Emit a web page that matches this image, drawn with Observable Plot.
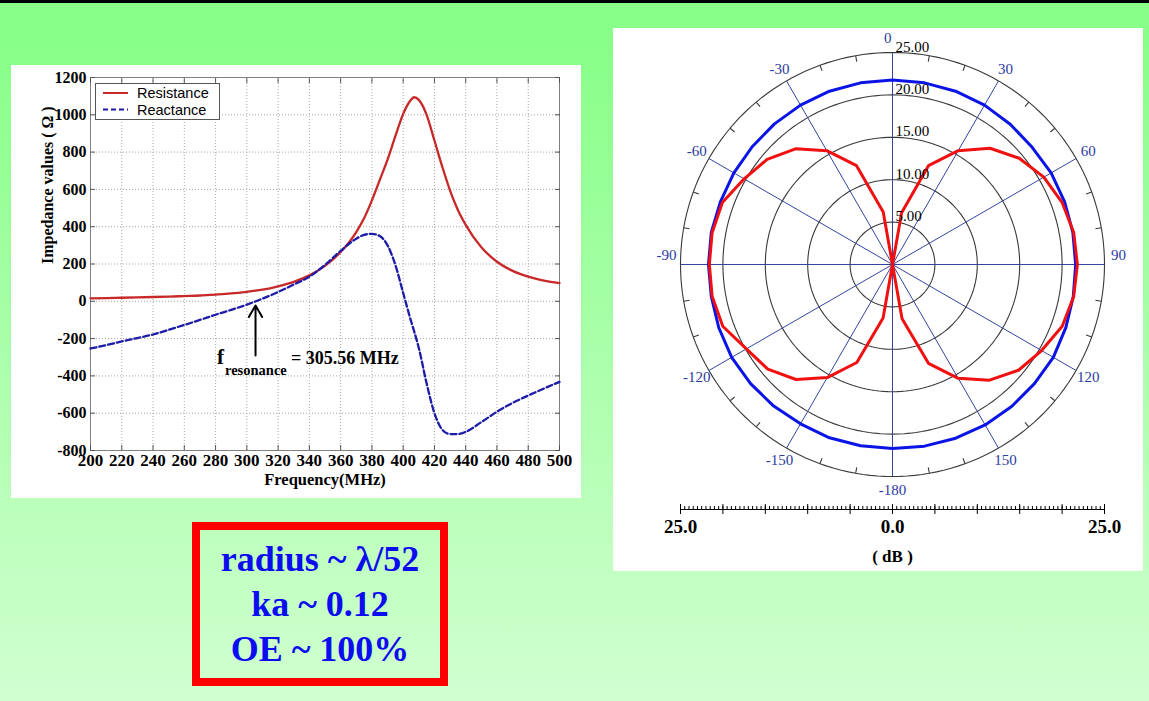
<!DOCTYPE html>
<html>
<head>
<meta charset="utf-8">
<script src="https://cdn.jsdelivr.net/npm/d3@7"></script>
<script src="https://cdn.jsdelivr.net/npm/@observablehq/plot@0.6"></script>
<style>
  html, body { margin: 0; padding: 0; }
  body {
    width: 1149px; height: 701px; position: relative; overflow: hidden;
    background: linear-gradient(to bottom, #88ff88 0%, #88ff88 6%, #d0ffd0 100%);
    font-family: 'Liberation Serif', 'Times New Roman', serif;
  }
  #topline { position: absolute; left: 0; top: 0; width: 1149px; height: 3px; background: #000; }
  #left { position: absolute; left: 11px; top: 65px; width: 570px; height: 433px; }
  #right { position: absolute; left: 613px; top: 28px; width: 530px; height: 543px; }
  #overlay { position: absolute; left: 0; top: 0; pointer-events: none; }
  #note {
    position: absolute; left: 192px; top: 522px; width: 240px; height: 148px;
    border: 8px solid #ff0000; padding: 0; text-align: center;
  }
  #note div {
    font-family: 'Liberation Serif', 'Times New Roman', serif; font-weight: bold;
    font-size: 36px; line-height: 45px; color: #0c0cf0; white-space: nowrap;
  }
  #note .first { margin-top: 7px; }
</style>
</head>
<body>
<div id="topline"></div>
<div id="left"></div>
<div id="right"></div>
<svg id="overlay" width="1149" height="701"></svg>
<div id="note">
  <div class="first">radius ~ λ/52</div>
  <div>ka ~ 0.12</div>
  <div>OE ~ 100%</div>
</div>
<script>
// ---------------- Impedance chart data ----------------
const freqMHz = [200,210,220,230,240,250,260,270,280,290,300,310,320,330,340,350,360,370,375,380,385,390,395,400,405,407,410,415,420,425,430,435,440,450,460,470,480,490,500];
const resistance = [16,17,19,21,23,25,28,31,36,42,51,62,80,104,139,190,264,371,445,541,650,760,885,1005,1080,1094,1080,1000,862,722,594,490,410,290,212,163,132,111,98];
const reactance = [-253,-235,-215,-197,-178,-153,-127,-100,-72,-46,-18,14,50,90,132,195,270,336,356,362,350,300,195,45,-105,-160,-250,-440,-600,-688,-712,-712,-700,-648,-592,-545,-505,-468,-432];
const freqTicks = [200,220,240,260,280,300,320,340,360,380,400,420,440,460,480,500];
const impedanceTicks = [-800,-600,-400,-200,0,200,400,600,800,1000,1200];
const seriesNames = ["Resistance", "Reactance"];
const resonance = { freq: 305.56, tail: -290, head: -22, label: "= 305.56 MHz" };

// ---------------- Radiation pattern data (dB) ----------------
const patternAngles = [-180,-170,-160,-150,-140,-130,-120,-110,-100,-90,-80,-70,-60,-50,-40,-30,-20,-10,0,10,20,30,40,50,60,70,80,90,100,110,120,130,140,150,160,170,180];
const redPattern = [0,6.4,12.3,15.4,17.7,19.2,19.9,21.3,21.6,21.6,21.6,21.35,20.2,19.3,17.8,15.5,12.4,6.3,0,6.2,12.4,15.5,17.9,19.5,20.6,21.3,21.7,21.8,21.7,21.3,20.3,19.4,17.8,15.5,12.4,6.5,0];
const bluePattern = [21.7,21.7,21.75,21.7,21.8,21.85,21.9,21.8,21.7,21.7,21.7,21.6,21.6,21.6,21.65,21.7,21.75,21.75,21.75,21.75,21.75,21.7,21.6,21.5,21.6,21.6,21.6,21.6,21.65,21.75,21.9,21.85,21.85,21.85,21.8,21.75,21.7];
const ringValues = [5, 10, 15, 20, 25];
const spokeAngles = [0,30,60,90,120,150,180,210,240,270,300,330];
const angleLabels = [0,30,60,90,120,150,-180,-150,-120,-90,-60,-30];
const outerTickAngles = [10,20,40,50,70,80,100,110,130,140,160,170,190,200,220,230,250,260,280,290,310,320,340,350];
const barMajorTicks = [-25,-20,-15,-10,-5,0,5,10,15,20,25];
const barLabelTicks = [-25, 0, 25];
const barUnit = "( dB )";

// ---------------- Impedance chart ----------------
const rows = freqMHz.map((f, i) => ({ f, R: resistance[i], X: reactance[i] }));
const tickStroke = "#555";
const leftChart = Plot.plot({
  width: 570, height: 433,
  marginLeft: 79, marginRight: 22, marginTop: 12, marginBottom: 48,
  style: { background: "#fff", fontFamily: "'Liberation Serif','Times New Roman',serif", fontWeight: "bold", color: "#000", overflow: "visible" },
  x: { domain: [200, 500] },
  y: { domain: [-800, 1200] },
  marks: [
    Plot.gridX(freqTicks, { stroke: "#a8a8a8", strokeOpacity: 1, strokeDasharray: "1,2" }),
    Plot.gridY(impedanceTicks, { stroke: "#a8a8a8", strokeOpacity: 1, strokeDasharray: "1,2" }),
    Plot.frame({ stroke: "#808080" }),
    Plot.axisX(freqTicks, { anchor: "bottom", tickSize: 5, dy: -5, tickFormat: () => "", label: null, stroke: tickStroke }),
    Plot.axisX(freqTicks, { anchor: "top", tickSize: 5, dy: 5, tickFormat: () => "", label: null, stroke: tickStroke }),
    Plot.axisY(impedanceTicks, { anchor: "left", tickSize: 5, dx: 5, tickFormat: () => "", label: null, stroke: tickStroke }),
    Plot.axisY(impedanceTicks, { anchor: "right", tickSize: 5, dx: -5, tickFormat: () => "", label: null, stroke: tickStroke }),
    Plot.axisX(freqTicks, { anchor: "bottom", tickSize: 0, tickPadding: 3, fontSize: 17, tickFormat: d => String(d), label: null }),
    Plot.axisY(impedanceTicks, { anchor: "left", tickSize: 0, tickPadding: 4, fontSize: 16, tickFormat: d => String(d), label: null }),
    Plot.line(rows, { x: "f", y: "R", stroke: "#c82828", strokeWidth: 2.3, curve: "monotone-x" }),
    Plot.line(rows, { x: "f", y: "X", stroke: "#1c1ca8", strokeWidth: 2.3, strokeDasharray: "6,3", curve: "monotone-x" }),
    Plot.arrow([resonance], { x1: "freq", x2: "freq", y1: "tail", y2: "head", stroke: "#000", strokeWidth: 2, headLength: 10 }),
    Plot.text(["Frequency(MHz)"], { text: d => d, frameAnchor: "bottom", dy: 34, lineAnchor: "bottom", fontSize: 16.5 }),
    Plot.text(["Impedance values ( Ω )"], { text: d => d, frameAnchor: "left", dx: -43, rotate: -90, fontSize: 16 })
  ]
});
document.getElementById("left").appendChild(leftChart);

// ---------------- Polar pattern ----------------
const rad = Math.PI / 180;
const px = (r, a) => r * Math.sin(a * rad);
const py = (r, a) => r * Math.cos(a * rad);
const rMax = 25;
const rLabel = rMax * 1.066;
const pattern = patternAngles.map((a, i) => ({ a, red: redPattern[i], blue: bluePattern[i] }));
const ringPts = ringValues.flatMap(r => d3.range(0, 361, 2).map(a => ({ r, a })));
const labelBlue = "#2b3a9e";

const polar = Plot.plot({
  width: 530, height: 543,
  marginLeft: 67, marginRight: 39, marginTop: 24, marginBottom: 95,
  style: { background: "#fff", fontFamily: "'Liberation Serif','Times New Roman',serif", color: "#000", overflow: "visible" },
  x: { domain: [-rMax, rMax] },
  y: { domain: [-rMax, rMax], axis: null },
  marks: [
    Plot.line(ringPts, { x: d => px(d.r, d.a), y: d => py(d.r, d.a), z: "r", stroke: "#3a3a3a", strokeWidth: 1.1 }),
    Plot.link(spokeAngles, { x1: 0, y1: 0, x2: a => px(rMax, a), y2: a => py(rMax, a), stroke: "#3444a0", strokeWidth: 1 }),
    Plot.link(outerTickAngles, { x1: a => px(rMax, a), y1: a => py(rMax, a), x2: a => px(rMax * 0.972, a), y2: a => py(rMax * 0.972, a), stroke: "#3a3a3a", strokeWidth: 1.1 }),
    Plot.line(pattern, { x: d => px(d.blue, d.a), y: d => py(d.blue, d.a), stroke: "#0a14e6", strokeWidth: 3 }),
    Plot.line(pattern, { x: d => px(d.red, d.a), y: d => py(d.red, d.a), stroke: "#f01010", strokeWidth: 3 }),
    Plot.text(ringValues, { x: 0, y: d => d, text: d => d.toFixed(2), textAnchor: "start", lineAnchor: "bottom", dx: 3, dy: -1, fontSize: 15, fill: "#000" }),
    Plot.text(angleLabels, { x: a => px(rLabel, a) - (a === 0 ? 0.55 : 0), y: a => py(rLabel, a) + (Math.abs(a) === 90 ? 1.05 : 0), text: a => String(a), fontSize: 15, fill: labelBlue }),
    Plot.axisX(barMajorTicks, { anchor: "bottom", tickSize: 10, dy: 28, tickFormat: () => "", label: null, stroke: "#000" }),
    Plot.axisX(d3.range(-25, 25.01, 0.5), { anchor: "bottom", tickSize: 3, dy: 30, tickFormat: () => "", label: null, stroke: "#000" }),
    Plot.frame({ anchor: "bottom", dy: 33, stroke: "#000" }),
    Plot.axisX(barLabelTicks, { anchor: "bottom", tickSize: 0, tickPadding: 43, tickFormat: d => Math.abs(d).toFixed(1), fontSize: 19, fontWeight: "bold", label: null }),
    Plot.text([barUnit], { text: d => d, frameAnchor: "bottom", dy: 85, lineAnchor: "bottom", fontSize: 17, fontWeight: "bold" })
  ]
});
document.getElementById("right").appendChild(polar);

// ---------------- Overlay: legend and resonance annotation ----------------
const ov = d3.select("#overlay");
const lg = ov.append("g");
lg.append("rect").attr("x", 95.5).attr("y", 83.5).attr("width", 124).attr("height", 36)
  .attr("fill", "#fff").attr("stroke", "#555").attr("stroke-width", 1);
const legendStyles = [
  { color: "#c82828", dash: null },
  { color: "#1c1ca8", dash: "5,3" }
];
seriesNames.forEach((name, i) => {
  const yy = 93 + i * 16.5;
  lg.append("line").attr("x1", 103).attr("x2", 128).attr("y1", yy).attr("y2", yy)
    .attr("stroke", legendStyles[i].color).attr("stroke-width", 2)
    .attr("stroke-dasharray", legendStyles[i].dash);
  lg.append("text").attr("x", 137).attr("y", yy + 5).text(name)
    .attr("font-family", "'Liberation Sans', Arial, sans-serif").attr("font-size", 14.5).attr("fill", "#000");
});
const ann = ov.append("g").attr("font-family", "'Liberation Serif','Times New Roman',serif").attr("font-weight", "bold").attr("fill", "#000");
ann.append("text").attr("x", 217).attr("y", 364).attr("font-size", 21).text("f");
ann.append("text").attr("x", 225).attr("y", 375).attr("font-size", 14.5).text("resonance");
ann.append("text").attr("x", 291).attr("y", 364).attr("font-size", 18).text(resonance.label);
</script>
</body>
</html>
